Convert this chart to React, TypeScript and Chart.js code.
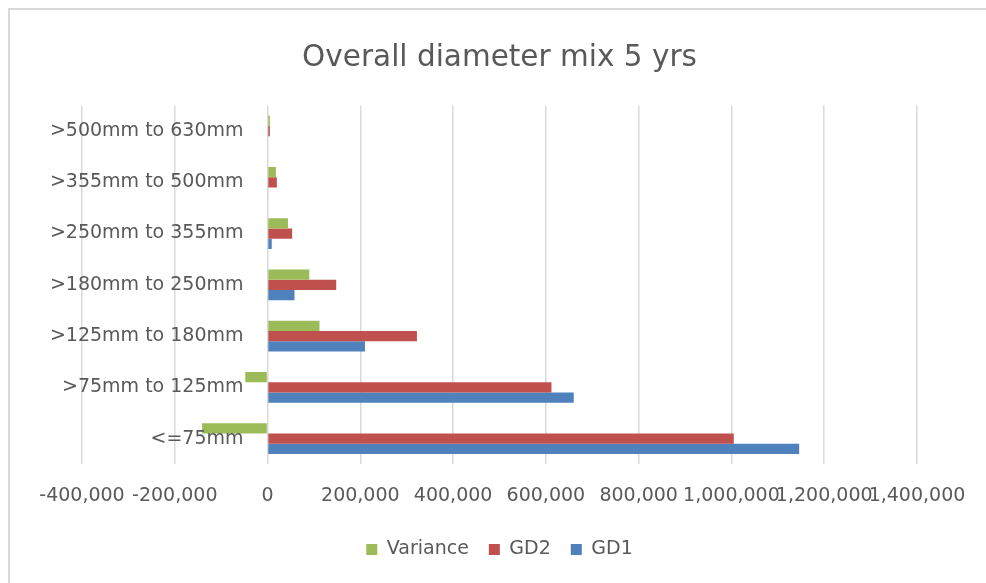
import React, { useEffect, useRef } from "react";
import { Chart, registerables } from "chart.js";

Chart.register(...registerables);

const categories = [
  ">500mm to 630mm",
  ">355mm to 500mm",
  ">250mm to 355mm",
  ">180mm to 250mm",
  ">125mm to 180mm",
  ">75mm to 125mm",
  "<=75mm",
];
const seriesNames = ["Variance", "GD2", "GD1"];
const variance = [5000, 18000, 44000, 90000, 112000, -48000, -141000];
const gd2 = [5000, 20000, 53000, 148000, 322000, 612000, 1005000];
const gd1 = [0, 1500, 9000, 58000, 210000, 660000, 1146000];
const xMin = -400000;
const xMax = 1400000;
const xStep = 200000;
const titleText = "Overall diameter mix 5 yrs";

const FONT = "'DejaVu Sans'";
const TEXT = "#595959";

const categoryLabelPlugin = {
  id: "categoryLabels",
  afterDatasetsDraw(chart: any) {
    const { ctx, scales } = chart;
    const x = scales.x;
    const y = scales.y;
    const x0 = x.getPixelForValue(0);
    ctx.save();
    ctx.font = `19px ${FONT}`;
    ctx.fillStyle = TEXT;
    ctx.textAlign = "right";
    ctx.textBaseline = "middle";
    categories.forEach((c, i) => {
      ctx.fillText(c, x0 - 24, y.getPixelForValue(i));
    });
    ctx.restore();
  },
};

export default function App() {
  const ref = useRef<HTMLCanvasElement | null>(null);
  useEffect(() => {
    if (!ref.current) return;
    const chart = new Chart(ref.current, {
      type: "bar",
      data: {
        labels: categories,
        datasets: [
          { label: seriesNames[0], data: variance, backgroundColor: "#9BBB59" },
          { label: seriesNames[1], data: gd2, backgroundColor: "#C0504D" },
          { label: seriesNames[2], data: gd1, backgroundColor: "#4F81BD" },
        ],
      },
      options: {
        indexAxis: "y",
        animation: false,
        responsive: true,
        maintainAspectRatio: false,
        datasets: { bar: { categoryPercentage: 0.6, barPercentage: 1.0 } },
        layout: { padding: { left: 72, right: 69, top: 0, bottom: 14 } },
        scales: {
          x: {
            min: xMin,
            max: xMax,
            border: { display: false },
            grid: { color: "#d9d9d9", lineWidth: 1.5, drawTicks: false },
            ticks: {
              stepSize: xStep,
              autoSkip: false,
              maxRotation: 0,
              minRotation: 0,
              padding: 20,
              color: TEXT,
              font: { family: FONT, size: 19 },
            },
            afterFit: (s: any) => {
              s.height -= 7;
            },
          },
          y: {
            display: false,
          },
        },
        plugins: {
          title: {
            display: true,
            text: titleText,
            color: TEXT,
            font: { family: FONT, size: 29.5, weight: "normal" },
            padding: { top: 31, bottom: 29 },
          },
          legend: {
            position: "bottom",
            labels: {
              boxWidth: 11,
              boxHeight: 11,
              padding: 20,
              color: TEXT,
              font: { family: FONT, size: 19 },
            },
          },
          tooltip: { enabled: false },
        },
      },
      plugins: [categoryLabelPlugin],
    });
    return () => chart.destroy();
  }, []);

  return (
    <div
      style={{
        position: "fixed",
        left: 8,
        top: 8,
        width: 1000,
        height: 600,
        boxSizing: "border-box",
        border: "2px solid #d9d9d9",
        background: "#fff",
      }}
    >
      <div style={{ position: "relative", width: 976, height: 573 }}>
        <canvas ref={ref} />
      </div>
    </div>
  );
}
